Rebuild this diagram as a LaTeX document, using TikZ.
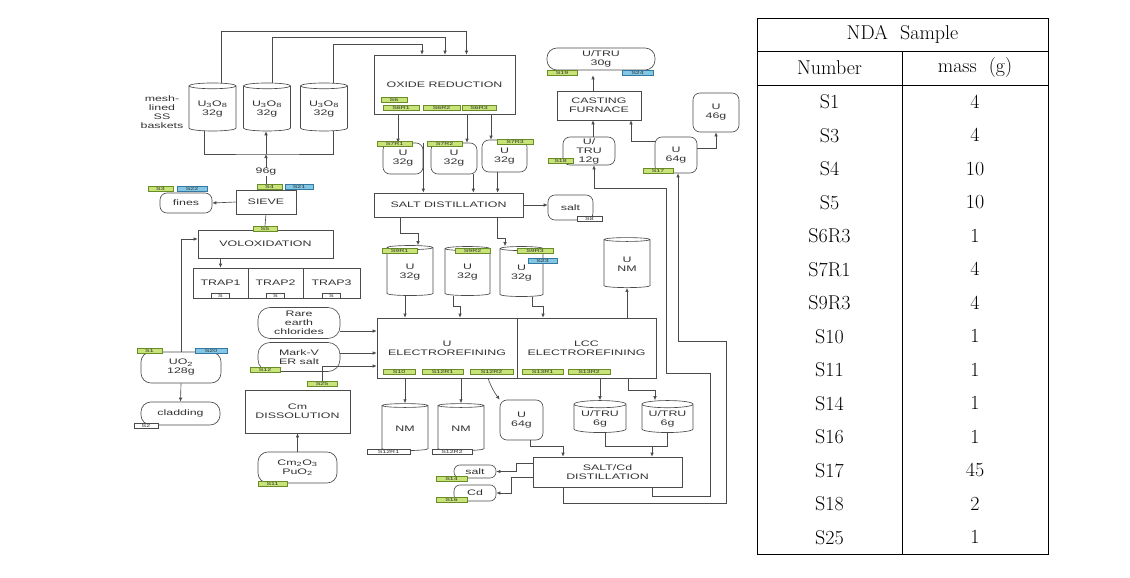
\documentclass[tikz,border=0pt]{standalone}
\usepackage{fontspec}
\usetikzlibrary{shapes,shapes.geometric,arrows.meta,calc,positioning,backgrounds}
\newfontfamily\diafont[FakeStretch=1.55]{Liberation Sans}
\definecolor{linegray}{RGB}{75,75,75}
\definecolor{txtgray}{RGB}{50,50,50}
\definecolor{taggreen}{RGB}{200,228,120}
\definecolor{taggreendk}{RGB}{105,140,40}
\definecolor{tagblue}{RGB}{130,200,230}
\definecolor{tagbluedk}{RGB}{55,120,160}
\begin{document}
\begin{tikzpicture}[x=1pt,y=-1pt,
    >={Latex[length=4pt,width=3.5pt]},
    every node/.style={font=\diafont\fontsize{8}{9}\selectfont,text=txtgray,inner sep=1pt},
    proc/.style={rectangle,draw=linegray,line width=0.65pt,align=center},
    vessel/.style={cylinder,shape border rotate=90,aspect=0.18,draw=linegray,line width=0.65pt,align=center},
    store/.style={rectangle,rounded corners=7pt,draw=linegray,line width=0.65pt,align=center},
    tag/.style={rectangle,inner sep=0pt,minimum height=5pt,line width=0.5pt,font=\diafont\fontsize{4.5}{4.5}\selectfont},
    gtag/.style={tag,fill=taggreen,draw=taggreendk},
    btag/.style={tag,fill=tagblue,draw=tagbluedk},
    wtag/.style={tag,fill=white,draw=linegray},
    flow/.style={draw=linegray,line width=0.65pt},
    tabtxt/.style={font=\rmfamily\fontsize{20}{24}\selectfont,text=black,inner sep=0pt}]
\useasboundingbox (0,0) rectangle (1130,578);

% head end
\node[vessel,minimum width=47pt,minimum height=48pt] (c1) at (212.5,109) {U\textsubscript{3}O\textsubscript{8}\\32g};
\node[vessel,minimum width=47pt,minimum height=48pt] (c2) at (267,109) {U\textsubscript{3}O\textsubscript{8}\\32g};
\node[vessel,minimum width=47pt,minimum height=48pt] (c3) at (324,109) {U\textsubscript{3}O\textsubscript{8}\\32g};
\node[align=center] (mesh) at (162,112) {mesh-\\lined\\SS\\baskets};
\node[proc,minimum width=60pt,minimum height=24pt] (sieve) at (266,202) {SIEVE};
\node[store,minimum width=52pt,minimum height=20pt] (fines) at (186,203) {fines};
\node[proc,minimum width=135pt,minimum height=28pt] (volox) at (265.5,244) {VOLOXIDATION};
\node[proc,minimum width=55pt,minimum height=30pt] (trap1) at (220.5,283) {TRAP1};
\node[proc,minimum width=55pt,minimum height=30pt] (trap2) at (275.5,283) {TRAP2};
\node[proc,minimum width=57pt,minimum height=30pt] (trap3) at (331.5,283) {TRAP3};
\node[store,rounded corners=10pt,minimum width=80pt,minimum height=31pt] (uo2) at (181,367.5) {UO\textsubscript{2}\\128g};
\node[store,rounded corners=10pt,minimum width=79pt,minimum height=23pt] (clad) at (180.5,413.5) {cladding};

% oxide reduction and salt distillation
\node[proc,minimum width=141pt,minimum height=59pt] (oxred) at (444.5,84.5) {OXIDE REDUCTION};
\node[store,minimum width=40pt,minimum height=31pt] (u1) at (403,158.5) {U\\32g};
\node[store,minimum width=46pt,minimum height=31pt] (u2) at (454,158.5) {U\\32g};
\node[store,minimum width=45pt,minimum height=32pt] (u3) at (504.5,156) {U\\32g};
\node[proc,minimum width=149pt,minimum height=24pt] (saltdist) at (448.5,205) {SALT DISTILLATION};
\node[store,minimum width=45pt,minimum height=25pt] (salt) at (570.5,207.5) {salt};
\node[vessel,minimum width=46pt,minimum height=50pt] (lc1) at (410,272) {U\\32g};
\node[vessel,minimum width=45pt,minimum height=49pt] (lc2) at (467.5,272.5) {U\\32g};
\node[vessel,minimum width=43pt,minimum height=50pt] (lc3) at (521.5,273) {U\\32g};

% electrorefining
\node[store,rounded corners=12pt,minimum width=82pt,minimum height=31pt] (rare) at (299,323) {Rare\\earth\\chlorides};
\node[store,rounded corners=12pt,minimum width=82pt,minimum height=29pt] (markv) at (299,357) {Mark-V\\ER salt};
\node[proc,minimum width=105pt,minimum height=43pt] (cm) at (297.5,411.5) {Cm\\DISSOLUTION};
\node[store,rounded corners=10pt,minimum width=79pt,minimum height=31pt] (cmox) at (297.5,467.5) {Cm\textsubscript{2}O\textsubscript{3}\\PuO\textsubscript{2}};
\node[proc,minimum width=140pt,minimum height=60pt] (uer) at (447,348) {U\\ELECTROREFINING};
\node[proc,minimum width=139pt,minimum height=60pt] (lcc) at (586.5,348) {LCC\\ELECTROREFINING};
\node[vessel,minimum width=46pt,minimum height=50pt] (unm) at (627,264) {U\\NM};
\node[vessel,minimum width=46pt,minimum height=47pt] (nm1) at (405,428.5) {NM};
\node[vessel,minimum width=46pt,minimum height=47pt] (nm2) at (461,428.5) {NM};
\node[store,minimum width=43pt,minimum height=40pt] (u64b) at (521.5,420) {U\\64g};
\node[vessel,minimum width=52pt,minimum height=32pt] (utru1) at (600,419) {U/TRU\\6g};
\node[vessel,minimum width=51pt,minimum height=32pt] (utru2) at (667.5,419) {U/TRU\\6g};
\node[proc,minimum width=149pt,minimum height=30pt] (saltcd) at (607.5,472) {SALT/Cd\\DISTILLATION};
\node[store,rounded corners=6pt,minimum width=42pt,minimum height=13pt] (salt2) at (475,471.5) {salt};
\node[store,rounded corners=6pt,minimum width=42pt,minimum height=16pt] (cd) at (475,493) {Cd};

% casting
\node[store,rounded corners=10pt,minimum width=108pt,minimum height=22pt] (utru30) at (601,59) {U/TRU\\30g};
\node[proc,minimum width=84pt,minimum height=29pt] (cf) at (599,105.5) {CASTING\\FURNACE};
\node[store,minimum width=52pt,minimum height=28pt] (utru12) at (589,151) {U/\\TRU\\12g};
\node[store,minimum width=42pt,minimum height=36pt] (u64t) at (676,155) {U\\64g};
\node[store,minimum width=46pt,minimum height=39pt] (u46) at (716,112.5) {U\\46g};

% sample tags
\node[gtag,minimum width=25pt] (t4) at (269.5,186.5) {S4};
\node[btag,minimum width=28pt] (t21) at (299,186.5) {S21};
\node[gtag,minimum width=25pt] (t3) at (160.5,188.5) {S3};
\node[btag,minimum width=30pt] (t22) at (192,188.5) {S22};
\node[gtag,minimum width=24pt] (t5) at (265,228.5) {S5};
\node[wtag,minimum width=18pt] (tp1) at (220.5,295.5) {S};
\node[wtag,minimum width=18pt] (tp2) at (275.5,295.5) {S};
\node[wtag,minimum width=18pt] (tp3) at (331.5,295.5) {S};
\node[gtag,minimum width=25pt] (t1) at (149.5,350.5) {S1};
\node[btag,minimum width=32pt] (t20) at (211,350.5) {S20};
\node[wtag,minimum width=24pt] (t2) at (146,425.5) {S2};
\node[gtag,minimum width=26pt] (t6) at (394,99.5) {S6};
\node[gtag,minimum width=36pt] (t6r1) at (401,108) {S6R1};
\node[gtag,minimum width=37pt] (t6r2) at (441.5,108) {S6R2};
\node[gtag,minimum width=34pt] (t6r3) at (479,108) {S6R3};
\node[gtag,minimum width=35pt] (t7r1) at (394.5,144) {S7R1};
\node[gtag,minimum width=35pt] (t7r2) at (444.5,144) {S7R2};
\node[gtag,minimum width=36pt] (t7r3) at (515,141.5) {S7R3};
\node[wtag,minimum width=25pt] (t8) at (589.5,218.5) {S8};
\node[gtag,minimum width=35pt] (t9r1) at (399.5,251) {S9R1};
\node[gtag,minimum width=35pt] (t9r2) at (472.5,250.5) {S9R2};
\node[gtag,minimum width=36pt] (t9r3) at (535,251) {S9R3};
\node[btag,minimum width=29pt] (t23) at (542.5,260.5) {S23};
\node[gtag,minimum width=30pt] (t12) at (265,369.5) {S12};
\node[gtag,minimum width=30pt] (t25) at (322,383.5) {S25};
\node[gtag,minimum width=29pt] (t11) at (272.5,483.5) {S11};
\node[gtag,minimum width=32pt] (t10) at (399,371.5) {S10};
\node[gtag,minimum width=41pt] (t12r1) at (442.5,371.5) {S12R1};
\node[gtag,minimum width=43pt] (t12r2) at (491.5,371.5) {S12R2};
\node[gtag,minimum width=41pt] (t13r1) at (542.5,371.5) {S13R1};
\node[gtag,minimum width=42pt] (t13r2) at (589,371.5) {S13R2};
\node[wtag,minimum width=43pt] (tn1) at (388.5,452) {S12R1};
\node[wtag,minimum width=40pt] (tn2) at (452,452) {S12R2};
\node[gtag,minimum width=31pt] (t14) at (451.5,478.5) {S14};
\node[gtag,minimum width=31pt] (t16) at (451.5,499.5) {S16};
\node[gtag,minimum width=30pt] (t19) at (562,73) {S19};
\node[btag,minimum width=31pt] (t24) at (637.5,73) {S24};
\node[gtag,minimum width=25pt] (t18) at (560.5,160.5) {S18};
\node[gtag,minimum width=30pt] (t17) at (658,170.5) {S17};

\begin{scope}[on background layer]
% baskets
\draw[flow,->] ($(c1.north)+(9,0)$) |- ($(oxred.north)+(22,-23)$) -- ($(oxred.north)+(22,0)$);
\draw[flow,->] ($(c2.north)+(5,0)$) |- ($(oxred.north)+(0.5,-17)$) -- ($(oxred.north)+(0.5,0)$);
\draw[flow,->] ($(c3.north)+(9,0)$) |- ($(oxred.north)+(-22.5,-10)$) -- ($(oxred.north)+(-22.5,0)$);
\coordinate (bus) at (266,154);
\draw[flow] ($(c1.south)+(-8.5,0)$) |- (bus) -| ($(c3.south)+(9,0)$);
\draw[flow,->] (bus) -- (bus |- c2.south);
\draw[flow,->] (sieve.north) -- node[fill=white,inner sep=0.5pt]{96g} (sieve.north |- bus);
\draw[flow,->] (sieve.west) -- (fines.east);
\draw[flow] (sieve.south) -- (t5.north);
\draw[flow,->] (volox.south -| trap1.north) -- (trap1.north);
\draw[flow,->] (uo2.north) |- ($(volox.west)+(0,-5)$);
\draw[flow,->] (uo2.south) -- (clad.north);
% oxide reduction
\draw[flow,->] ($(oxred.south -| u1.north)+(-5,0)$) -- ($(u1.north)+(-5,0)$);
\draw[flow,->] ($(oxred.south -| u2.north)+(13,0)$) -- ($(u2.north)+(13,0)$);
\draw[flow,->] ($(oxred.south -| u3.north)+(-13.5,0)$) -- ($(u3.north)+(-13.5,0)$);
\draw[flow,->] (u1.north east) -- (u1.north east |- saltdist.north);
\draw[flow,->] ($(u2.south east)+(-4,0)$) -- ($(u2.south east |- saltdist.north)+(-4,0)$);
\draw[flow,->] ($(u3.south west)+(16,0)$) -- ($(u3.south west |- saltdist.north)+(16,0)$);
\draw[flow,->] (saltdist.east) -- (saltdist.east -| salt.west);
\draw[flow,->] ($(saltdist.south)+(-48.5,0)$) -- ++(0,16) -| ($(lc1.north)+(8,0)$);
\draw[flow,->] ($(saltdist.south)+(48.5,0)$) -- ++(0,21) -| ($(lc3.north)+(-16.5,0)$);
% electrorefining
\draw[flow,->] ($(lc1.south)+(-5,0)$) -- ($(lc1.south |- uer.north)+(-5,0)$);
\draw[flow,->] ($(lc2.south)+(-14.5,0)$) -- ++(0,10) -| ($(uer.north)+(13,0)$);
\draw[flow,->] ($(lc3.south)+(10.5,0)$) -- ++(0,9) -| ($(lcc.north)+(-43.5,0)$);
\draw[flow,->] ($(rare.east)+(0,8)$) -- ($(rare.east -| uer.west)+(0,8)$);
\draw[flow,->] ($(markv.east)+(0,-4)$) -- ($(markv.east -| uer.west)+(0,-4)$);
\draw[flow,->] (t25.north) |- ($(uer.west)+(0,18)$);
\draw[flow,->] (cmox.north) -- (cm.south);
\draw[flow,->] (lcc.north -| unm.south) -- (unm.south);
\draw[flow,->] (uer.south -| nm1.north) -- (nm1.north);
\draw[flow,->] (uer.south -| nm2.north) -- (nm2.north);
\draw[flow,->] ($(uer.south)+(41,0)$) to[bend right=8] (u64b.north west);
\draw[flow,->] (lcc.south -| utru1.north) -- (utru1.north);
\draw[flow,->] ($(lcc.south)+(41.5,0)$) |- ($(utru2.north)+(-12.5,-10)$) -- ($(utru2.north)+(-12.5,0)$);
% salt/Cd distillation
\draw[flow,->] ($(u64b.south)+(8.5,0)$) |- ($(saltcd.north)+(-44.5,-10)$) -- ($(saltcd.north)+(-44.5,0)$);
\draw[flow] ($(utru1.south)+(5,0)$) |- ($(saltcd.north)+(44.5,-10)$);
\draw[flow,->] (utru2.south) |- ($(saltcd.north)+(44.5,-10)$) -- ($(saltcd.north)+(44.5,0)$);
\draw[flow,->] ($(saltcd.west)+(0,-9)$) -- ++(-16,0) |- (salt2.east);
\draw[flow,->] ($(saltcd.west)+(0,5)$) -- ++(-21,0) |- (cd.east);
\draw[flow,->] ($(saltcd.south)+(-44.5,0)$) -- ++(0,16) -- ++(163,0) |- ($(u64t.south)+(2,168)$) -- ($(u64t.south)+(2,0)$);
\draw[flow,->] ($(saltcd.south)+(44.5,0)$) -- ++(0,9) -- ++(58,0) -- ++(0,-123) -- ++(-44,0) -- ++(0,-185) -| ($(utru12.south)+(5,0)$);
% casting
\draw[flow,->] ($(utru12.north)+(4,0)$) -- ($(utru12.north |- cf.south)+(4,0)$);
\draw[flow,->] ($(cf.north)+(-6,0)$) -- ($(cf.north |- utru30.south)+(-6,5)$);
\draw[flow,->] ($(u64t.west)+(0,-14)$) -| ($(cf.south)+(32,0)$);
\draw[flow,->] ($(u64t.east)+(0,-7)$) -| (u46.south);
\end{scope}

% sample table
\draw[line width=0.8pt] (757,18) rectangle (1048,554);
\draw[line width=0.8pt] (757,51) -- (1048,51);
\draw[line width=0.8pt] (757,85) -- (1048,85);
\draw[line width=0.8pt] (902,51) -- (902,554);
\node[tabtxt] (hdr) at (902.5,34.5) {NDA\ \ Sample};
\node[tabtxt] (hnum) at (829.5,68) {Number};
\node[tabtxt] (hmass) at (975,68) {mass\ \ (g)};
\foreach \num/\mass [count=\i] in {S1/4,S3/4,S4/10,S5/10,S6R3/1,S7R1/4,S9R3/4,S10/1,S11/1,S14/1,S16/1,S17/45,S18/2,S25/1}{
  \node[tabtxt] (num\i) at (829.5,{85+(\i-0.5)*33.5}) {\num};
  \node[tabtxt] (mass\i) at (975,{85+(\i-0.5)*33.5}) {\mass};
}
\end{tikzpicture}
\end{document}
